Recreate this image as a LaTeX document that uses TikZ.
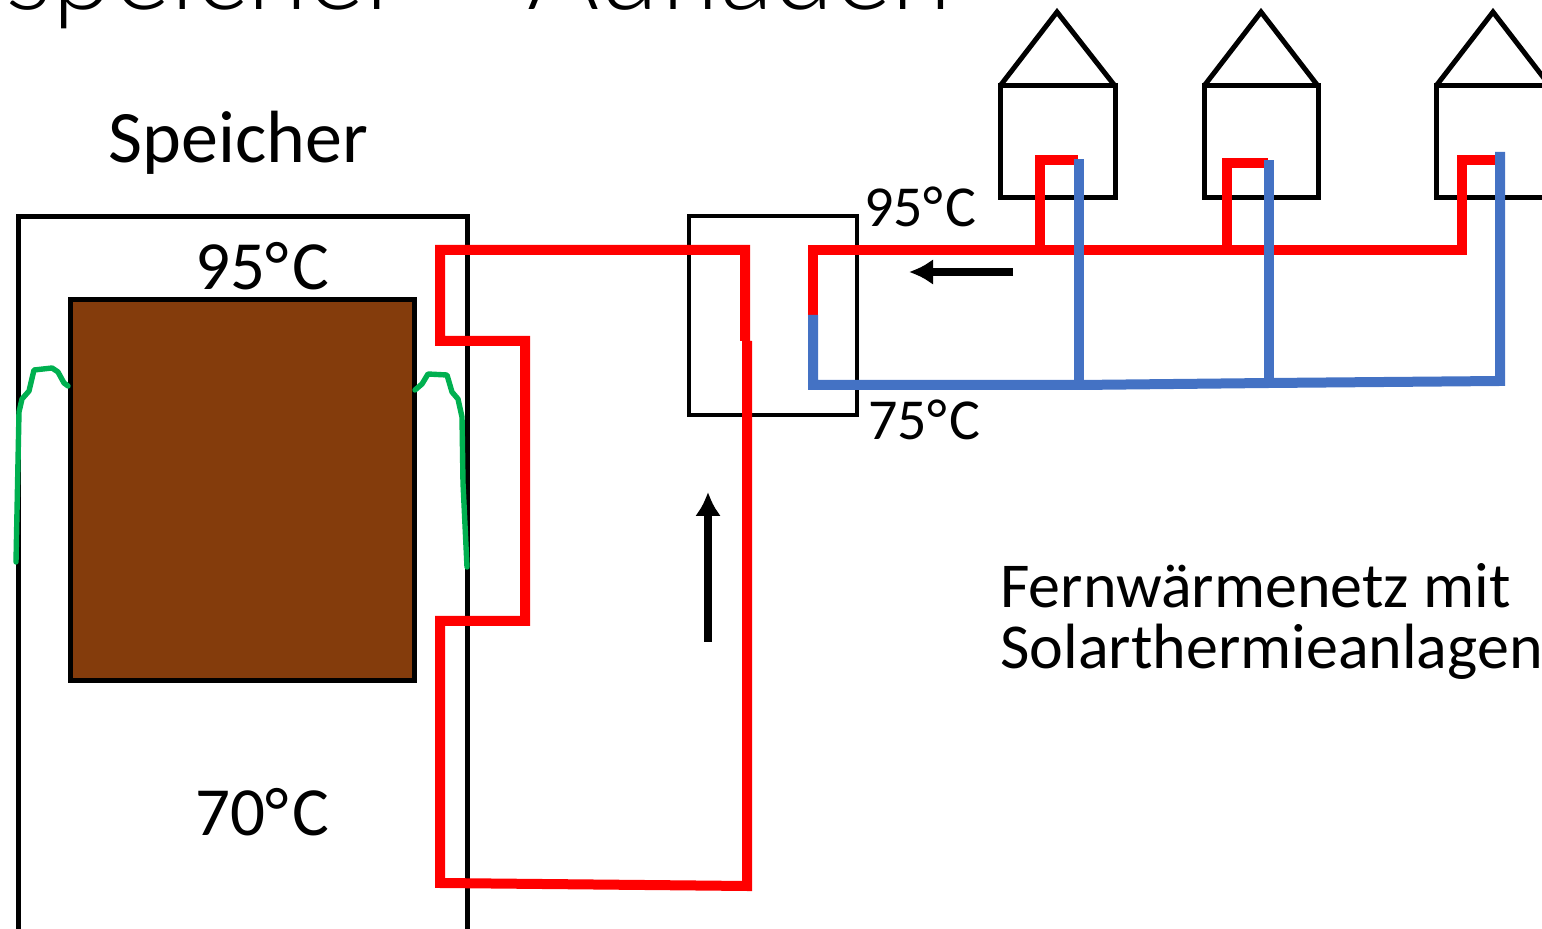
\documentclass[tikz,border=0pt]{standalone}
\usepackage{fontspec}
\setmainfont{Carlito}
\newfontfamily\titlefont{Lato Light}
\usetikzlibrary{arrows.meta}
\definecolor{pipered}{RGB}{255,0,0}
\definecolor{pipeblue}{RGB}{68,114,196}
\definecolor{corebrown}{RGB}{132,60,12}
\definecolor{sensorgreen}{RGB}{0,176,80}
\newcommand{\degc}{°\kern0.05em C}
\tikzset{
  hotpipe/.style={pipered, line width=5pt, line join=miter},
  coldpipe/.style={pipeblue, line width=5pt, line join=miter},
  wall/.style={black, line width=2.5pt},
  sensor/.style={sensorgreen, line width=2.7pt, line join=round, line cap=round},
  flow/.style={black, line width=3.8pt, -{Latex[length=12pt, width=13pt]}},
  label/.style={inner sep=0pt, anchor=base west},
}
\begin{document}
\begin{tikzpicture}[x=0.5pt, y=-0.5pt]
\useasboundingbox (0, 0) rectangle (1542, 929);
\clip (0, 0) rectangle (1542, 929);

\node [label, font=\titlefont\fontsize{55}{55}\selectfont] (title) at (-52, 10) {espeicher – Aufladen};

%%%%%%%%%%%%%%%%%%%%%%%%%%%%%%%%%%%%%%%%

\draw [wall] (18, 1000) -- (18, 217) -- (467, 217) -- (467, 1000);
\draw [wall, fill=corebrown] (70, 300) rectangle (414, 681);
\node [label, font=\fontsize{37}{37}\selectfont] (store) at (108, 163) {Speicher};
\node [label, font=\fontsize{34.5}{35}\selectfont] (top) at (195, 290) {95\degc};
\node [label, font=\fontsize{34.5}{35}\selectfont] (bottom) at (195, 835) {70\degc};

\draw [sensor] (16, 562) -- (19, 412) -- (22, 399) -- (29, 391) -- (34, 370) -- (52, 368) -- (58, 372) -- (64, 383) -- (68, 386);
\draw [sensor] (415, 390) -- (422, 384) -- (428, 374) -- (447, 375) -- (452, 392) -- (458, 399) -- (462, 417) -- (463, 483) -- (467, 567);

\draw [black, line width=2.2pt] (689, 216) rectangle (857, 415);

%%%%%%%%%%%%%%%%%%%%%%%%%%%%%%%%%%%%%%%%

\draw [wall] (1000, 86) rectangle (1115, 198);
\draw [wall] (1000, 86) -- (1057, 12) -- (1115, 86);
\draw [wall] (1204, 86) rectangle (1318, 198);
\draw [wall] (1204, 86) -- (1261, 12) -- (1318, 86);
\draw [wall] (1436, 86) rectangle (1560, 198);
\draw [wall] (1436, 86) -- (1493, 12) -- (1550, 86);

\path (813, 315) coordinate (split);
\path (1040, 250) coordinate (tee1);
\path (1227, 250) coordinate (tee2);
\path (1079, 385) coordinate (ret1);
\path (1269, 383) coordinate (ret2);

\draw [hotpipe] (745, 341) -- (745, 250) -- (440, 250) -- (440, 341) -- (525, 341) -- (525, 621) -- (440, 621) -- (440, 883) -- (747, 886) -- (747, 341);
\draw [hotpipe] (split) -- (813, 250) -- (tee1) -- (tee2) -- (1462, 250) -- (1462, 160) -- (1498, 160);
\draw [hotpipe] (tee1) -- (1040, 160) -- (1078, 160);
\draw [hotpipe] (tee2) -- (1227, 163) -- (1268, 163);
\draw [coldpipe] (split) -- (813, 385) -- (ret1) -- (ret2) -- (1500, 381) -- (1500, 152);
\draw [coldpipe] (ret1) -- (1079, 159);
\draw [coldpipe] (ret2) -- (1269, 160);

\path (1013, 272) coordinate (netfrom);
\path (909, 272) coordinate (netto);
\draw [flow] (netfrom) -- (netto);
\path (708, 642) coordinate (risefrom);
\path (708, 492) coordinate (riseto);
\draw [flow] (risefrom) -- (riseto);

\node [label, font=\fontsize{29}{29}\selectfont] (supply) at (864, 227) {95\degc};
\node [label, font=\fontsize{29}{29}\selectfont] (return) at (868, 440) {75\degc};
\node [label, font=\fontsize{32}{32}\selectfont] (net1) at (1000, 608) {Fernwärmenetz mit};
\node [label, font=\fontsize{32}{32}\selectfont] (net2) at (1000, 669) {Solarthermieanlagen};
\end{tikzpicture}
\end{document}
